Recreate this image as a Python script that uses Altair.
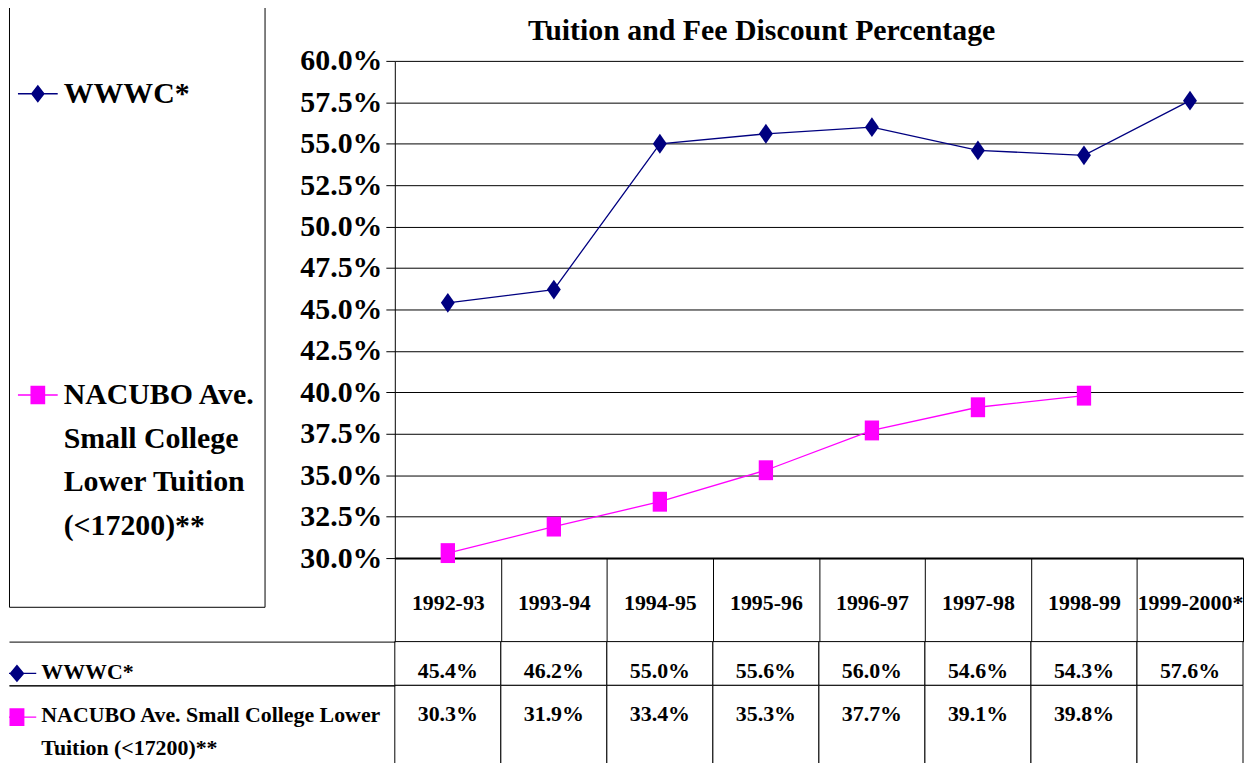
import json
import altair as alt
import pandas as pd

# ---------------- data ----------------
years = ["1992-93", "1993-94", "1994-95", "1995-96", "1996-97", "1997-98", "1998-99", "1999-2000*"]
wwwc = [45.4, 46.2, 55.0, 55.6, 56.0, 54.6, 54.3, 57.6]
nacubo = [30.3, 31.9, 33.4, 35.3, 37.7, 39.1, 39.8, None]
series = ["WWWC*", "NACUBO Ave. Small College Lower Tuition (<17200)**"]
colors = ["#000080", "#FF00FF"]
y_ticks = [30.0, 32.5, 35.0, 37.5, 40.0, 42.5, 45.0, 47.5, 50.0, 52.5, 55.0, 57.5, 60.0]
title_text = "Tuition and Fee Discount Percentage"
box_lines = [["WWWC*"], ["NACUBO Ave.", "Small College", "Lower Tuition", "(<17200)**", ""]]
row_lines = [["WWWC*"], ["NACUBO Ave. Small College Lower", "Tuition (<17200)**"]]

FONT = "Liberation Serif"

df = pd.DataFrame({
    "year": years * 2,
    "series": [series[0]] * len(years) + [series[1]] * len(years),
    "value": wwwc + nacubo,
})

# marker / legend symbol shapes (custom SVG paths in unit box)
plot_shapes = ["M0,-1L0.7,0L0,1L-0.7,0Z", "M-0.72,-1H0.72V1H-0.72Z"]
stub = "M-1,-0.035H1V0.035H-1Z"
box_shapes = ["M0,-0.45L0.35,0L0,0.45L-0.35,0Z " + stub,
              "M-0.37,-0.46H0.37V0.46H-0.37Z " + stub + " M0,10.2"]
row_stub = "M-0.4,-0.035H0.97V0.035H-0.4Z"
row_shapes = ["M0,-0.45L0.375,0L0,0.45L-0.375,0Z " + row_stub,
              "M-0.375,-0.45H0.375V0.45H-0.375Z " + row_stub]


def lines_expr(names, lines):
    expr = "datum.label"
    for n, l in zip(reversed(names), reversed(lines)):
        expr = f"datum.label == {json.dumps(n)} ? {json.dumps(l)} : ({expr})"
    return expr


PLOT_W = 853
PLOT_H = 500

# ---------------- top chart ----------------
x_top = alt.X(
    "year:N", sort=years, title=None,
    scale=alt.Scale(type="band", domain=years, paddingInner=0, paddingOuter=0),
    axis=alt.Axis(labelAngle=0, labelFont=FONT, labelFontSize=22, labelFontWeight="bold",
                  labelColor="black", labelBaseline="middle", labelPadding=-39,
                  labelOverlap=False, labelLimit=300, tickBand="extent", tickSize=84,
                  tickColor="black", tickWidth=1, domainColor="black", domainWidth=2,
                  grid=False),
)
y_top = alt.Y(
    "value:Q", title=None,
    scale=alt.Scale(domain=[30, 60], nice=False, zero=False),
    axis=alt.Axis(values=y_ticks, labelExpr="format(datum.value, '.1f') + '%'",
                  labelFont=FONT, labelFontSize=30, labelFontWeight="bold",
                  labelColor="black", labelPadding=4, labelOverlap=False, labelFlush=False,
                  tickSize=9, tickColor="black", domainColor="black",
                  gridColor="black", gridOpacity=1, gridWidth=1),
)

layers = []
for i, s in enumerate(series):
    d = df[df.series == s]
    base = alt.Chart(d).transform_filter("isValid(datum.value)")
    layers.append(base.mark_line(color=colors[i], strokeWidth=1.3).encode(x=x_top, y=y_top))
for i, s in enumerate(series):
    d = df[df.series == s]
    base = alt.Chart(d).transform_filter("isValid(datum.value)")
    layers.append(base.mark_point(shape=plot_shapes[i], filled=True, size=400,
                                  color=colors[i], opacity=1).encode(x=x_top, y=y_top))

box_leg = alt.Legend(
    orient="none", legendX=-388, legendY=-55, title=" ", titleFontSize=10, titlePadding=49,
    strokeColor="black", fillColor="white", padding=9, rowPadding=268,
    symbolSize=1600, symbolStrokeWidth=0, labelOffset=6, labelLimit=400,
    labelFont=FONT, labelFontSize=30, labelFontWeight="bold", labelColor="black",
    labelExpr=lines_expr(series, box_lines),
)
leg_top = alt.Chart(pd.DataFrame({"series": series})).transform_filter("false").mark_point(
    filled=True, opacity=1).encode(
    color=alt.Color("series:N", scale=alt.Scale(domain=series, range=colors), legend=box_leg),
    shape=alt.Shape("series:N", scale=alt.Scale(domain=series, range=box_shapes), legend=box_leg),
)
layers.append(leg_top)

top = alt.layer(*layers).properties(
    width=PLOT_W, height=PLOT_H,
    title=alt.TitleParams(title_text, font=FONT, fontSize=30, fontWeight="bold", color="black",
                          anchor="start", frame="group", dx=134, dy=44, offset=4),
)


# ---------------- data table rows ----------------
def row_view(i, height, text_dy, label_offset, leg_y):
    d = df[df.series == series[i]]
    base = alt.Chart(d)
    xr = alt.X("year:N", sort=years, title=None,
               scale=alt.Scale(type="band", domain=years, paddingInner=0, paddingOuter=0),
               axis=None)
    yr = alt.Y("series:N", title=None,
               scale=alt.Scale(type="band", domain=[series[i]], paddingInner=0, paddingOuter=0),
               axis=alt.Axis(tickBand="extent", tickSize=388, tickColor="black", tickWidth=1,
                             domain=False, grid=False, labelAlign="left", labelPadding=-32,
                             labelBaseline="middle", labelOffset=label_offset, labelLimit=400,
                             labelFont=FONT, labelFontSize=22, labelFontWeight="bold",
                             labelColor="black", labelLineHeight=34,
                             labelExpr=lines_expr(series, row_lines)))
    cells = base.mark_rect(fill="white", stroke="black", strokeWidth=1).encode(x=xr, y=yr)
    txt = base.transform_filter("isValid(datum.value)").transform_calculate(
        label="format(datum.value, '.1f') + '%'").mark_text(
        font=FONT, fontSize=22, fontWeight="bold", color="black", dy=text_dy).encode(
        x=xr, y=yr, text="label:N")
    rl = alt.Legend(orient="none", legendX=-388, legendY=leg_y, title=None, padding=0,
                    symbolSize=1600, symbolStrokeWidth=0, symbolOffset=-12, labelExpr="''")
    leg = alt.Chart(pd.DataFrame({"series": [series[i]]})).transform_filter("false").mark_point(
        filled=True, opacity=1).encode(
        color=alt.Color("series:N", scale=alt.Scale(domain=[series[i]], range=[colors[i]]), legend=rl),
        shape=alt.Shape("series:N", scale=alt.Scale(domain=[series[i]], range=[row_shapes[i]]), legend=rl),
    )
    return alt.layer(cells, txt, leg).properties(width=PLOT_W, height=height)


rows = alt.vconcat(row_view(0, 44, 8, 8, 12), row_view(1, 92, -17, -17, 12),
                   spacing=0, bounds="flush").resolve_scale(color="independent", shape="independent")

chart = alt.vconcat(top, rows, spacing=84, bounds="flush").resolve_scale(
    color="independent", shape="independent").properties(
    padding={"top": -5, "left": 0, "right": 0, "bottom": 0}).configure(
    font=FONT, style={"guide-label": {"lineHeight": 44}}).configure_view(stroke=None)

chart.save("out.html", embed_options={"renderer": "svg", "actions": False})
